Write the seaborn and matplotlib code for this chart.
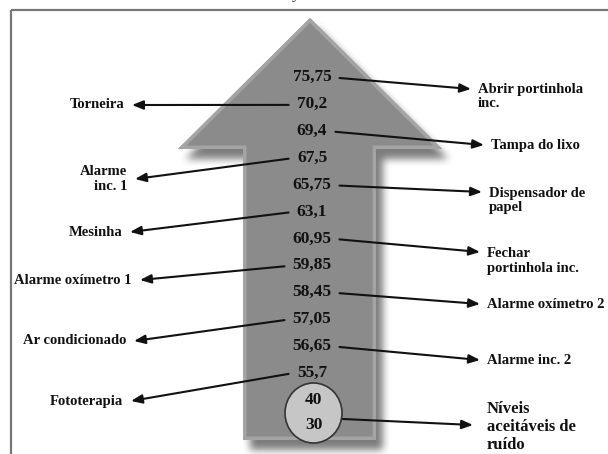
import numpy as np
import matplotlib
matplotlib.use("Agg")
import matplotlib.pyplot as plt
import seaborn as sns
from matplotlib.path import Path
from matplotlib.patches import PathPatch, Ellipse, Rectangle

# --- data: noise levels (dB) and their sources ---
values = ["75,75", "70,2", "69,4", "67,5", "65,75", "63,1",
          "60,95", "59,85", "58,45", "57,05", "56,65", "55,7"]
sources = ["Abrir portinhola\ninc.", "Torneira", "Tampa do lixo", "Alarme\ninc. 1",
           "Dispensador de\npapel", "Mesinha", "Fechar\nportinhola inc.",
           "Alarme oxímetro 1", "Alarme oxímetro 2", "Ar condicionado",
           "Alarme inc. 2", "Fototerapia"]
sides = ["right", "left"] * 6
acceptable = ["40", "30"]
acceptable_label = "Níveis\naceitáveis de\nruído"

# --- layout (pixels, y downwards) ---
label_x = [478, 124, 491, 127, 489, 122, 487, 132, 487, 126, 487, 123]
label_y = [96.5, 105, 145, 179, 200.5, 232, 261, 280, 304, 341, 360, 401]
tip_y = [89, 105, 145, 179, 192, 232, 252, 280, 304, 341, 360, 401]
value_x, value_y0, value_dy = 312, 77, 26.9

sns.set_theme(style="white")
plt.rcParams['font.family'] = ['Liberation Serif', 'DejaVu Serif']
plt.rcParams['font.weight'] = 'bold'

W, H = 608, 454
fig = plt.figure(figsize=(W / 100, H / 100), dpi=100)
ax = fig.add_axes([0, 0, 1, 1])
ax.set_xlim(0, W)
ax.set_ylim(H, 0)
ax.axis('off')

# frame around the figure
ax.add_patch(Rectangle((11, 10), 700, 600, fill=False, ec='#777777', lw=1.6, zorder=1))
ax.text(296, -1, "y", fontsize=11, ha='center', va='baseline', color='#222222',
        fontweight='normal', clip_on=False)

# big arrow
verts = [(310, 18), (442, 149), (376, 149), (376, 440), (243, 440),
         (243, 149), (178, 149), (310, 18)]
arrow_path = Path(verts, closed=True)

# soft shadow
yy, xx = np.mgrid[0:H, 0:W]
pts = np.column_stack([xx.ravel() + 0.5, yy.ravel() + 0.5])
shadow_path = Path([(x + 7, y + 10) for x, y in verts], closed=True)
mask = shadow_path.contains_points(pts).reshape(H, W).astype(float)
k = np.ones(9) / 9
for _ in range(2):
    mask = np.apply_along_axis(lambda r: np.convolve(r, k, mode='same'), 1, mask)
    mask = np.apply_along_axis(lambda c: np.convolve(c, k, mode='same'), 0, mask)
rgba = np.zeros((H, W, 4))
rgba[..., :3] = 0.15
rgba[..., 3] = mask * 0.6
ax.imshow(rgba, extent=(0, W, H, 0), zorder=2, interpolation='bilinear')

body = PathPatch(arrow_path, fc='#8b8b8b', ec='none', zorder=3)
ax.add_patch(body)
bevel = PathPatch(arrow_path, fc='none', ec='#a4a4a4', lw=5, zorder=4)
ax.add_patch(bevel)
bevel.set_clip_path(body)

# values inside the arrow with arrows towards their sources
for i, (val, src, side) in enumerate(zip(values, sources, sides)):
    vy = value_y0 + i * value_dy
    ax.text(value_x, vy, val, fontsize=12.5, ha='center', va='center',
            color='#111111', zorder=6)
    half = len(val) * 4.1 + 7
    if side == "right":
        tail = (value_x + half, vy + 1)
        tip = (label_x[i] - 7, tip_y[i])
        ha = 'left'
    else:
        tail = (value_x - half, vy + 1)
        tip = (label_x[i] + 8, tip_y[i])
        ha = 'right'
    ax.annotate("", xy=tip, xytext=tail,
                arrowprops=dict(arrowstyle='-|>,head_length=0.55,head_width=0.22',
                                color='#111111', lw=1.5, mutation_scale=12,
                                shrinkA=0, shrinkB=0), zorder=7)
    ax.text(label_x[i], label_y[i], src, fontsize=10.5, ha=ha, va='center',
            multialignment=ha, linespacing=1.15, color='#111111', zorder=6)

# acceptable noise levels
ax.add_patch(Ellipse((313.5, 413), 57, 60, fc='#c6c6c6', ec='#333333', lw=1.2, zorder=5))
ax.text(313.5, 400, acceptable[0], fontsize=12.5, ha='center', va='center', color='#111111', zorder=6)
ax.text(313.5, 425, acceptable[1], fontsize=12.5, ha='center', va='center', color='#111111', zorder=6)
ax.annotate("", xy=(473, 425), xytext=(343, 419),
            arrowprops=dict(arrowstyle='-|>,head_length=0.55,head_width=0.22',
                            color='#111111', lw=1.5, mutation_scale=12,
                            shrinkA=0, shrinkB=0), zorder=7)
ax.text(487, 427, acceptable_label, fontsize=12, ha='left', va='center',
        linespacing=1.2, color='#111111', zorder=6)

fig.savefig("out.png", dpi=100)
